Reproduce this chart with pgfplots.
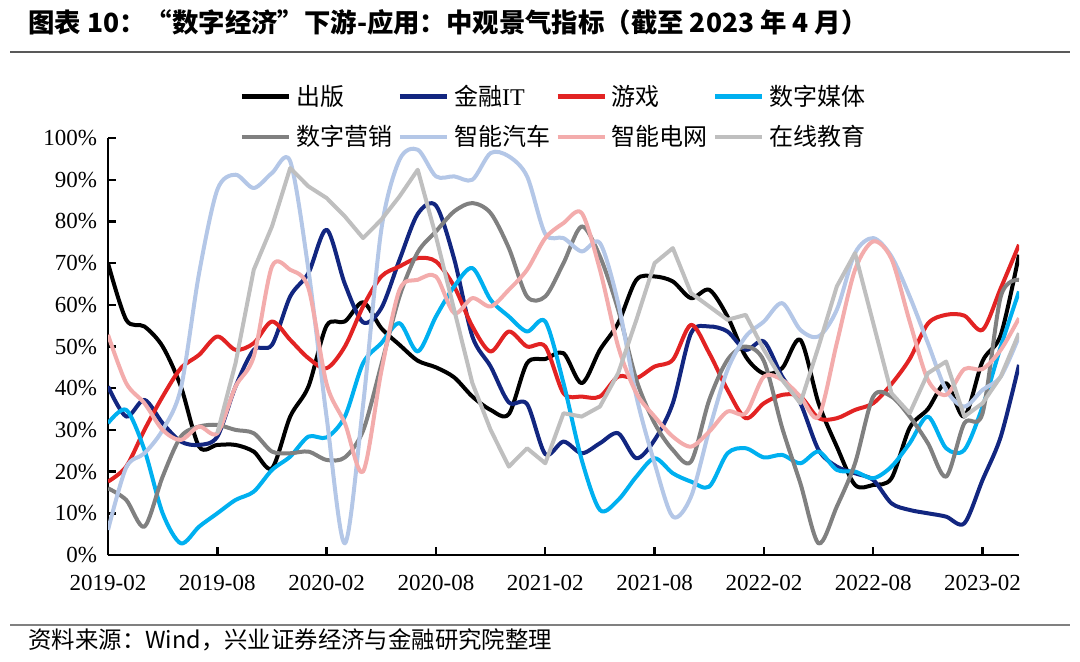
\documentclass[border=0pt]{standalone}
\usepackage{fontspec}
\setmainfont{Liberation Serif}
\newfontfamily\cjk{Noto Sans CJK SC}
\usepackage{pgfplots}
\pgfplotsset{compat=1.18}
\definecolor{cNavy}{RGB}{18,38,128}
\definecolor{cRed}{RGB}{226,35,35}
\definecolor{cCyan}{RGB}{0,176,240}
\definecolor{cGray}{RGB}{128,128,128}
\definecolor{cLBlue}{RGB}{180,199,231}
\definecolor{cPink}{RGB}{243,172,172}
\definecolor{cLGray}{RGB}{191,191,191}
\pgfplotsset{
  legend image code/.code={\draw[#1, line width=2.4pt] (0pt,0pt) -- (23.5pt,0pt);},
}
\newcommand{\lgent}[1]{\makebox[53pt][l]{\hspace{2.5pt}#1}}
\begin{document}
\begin{tikzpicture}
\useasboundingbox (0pt,0pt) rectangle (540pt,330.5pt);
\node[anchor=west, inner sep=0pt] at (14pt,319.5pt) {\cjk\bfseries\fontsize{13.2}{15}\selectfont 图表 10：“数字经济”下游-应用：中观景气指标（截至 2023 年 4 月）};
\draw[line width=1.2pt, color=black!65] (5pt,304.5pt) -- (535pt,304.5pt);
\draw[line width=1pt, color=black!50] (5pt,18pt) -- (535pt,18pt);
\node[anchor=west, inner sep=0pt] at (14pt,10.5pt) {\cjk\fontsize{11.7}{13}\selectfont 资料来源：Wind，兴业证券经济与金融研究院整理};
\begin{axis}[
  at={(54pt,53pt)}, anchor=south west,
  scale only axis, width=455.5pt, height=208.5pt,
  xmin=0, xmax=50, ymin=0, ymax=100,
  axis x line=bottom, axis y line=left,
  axis line style={line width=1.2pt, -},
  xtick={0,6,12,18,24,30,36,42,48},
  xticklabels={2019-02,2019-08,2020-02,2020-08,2021-02,2021-08,2022-02,2022-08,2023-02},
  ytick={0,10,...,100},
  yticklabels={0\%,10\%,20\%,30\%,40\%,50\%,60\%,70\%,80\%,90\%,100\%},
  tick align=inside, major tick length=4pt,
  tick style={line width=1.2pt, black},
  ticklabel style={font=\fontsize{11.5}{13}\selectfont},
  y tick label style={xshift=-2pt},
  x tick label style={yshift=-6.5pt},
  legend columns=4,
  legend style={at={(0.144,1.128)}, anchor=north west, draw=none, fill=none,
    inner sep=0pt, column sep=0pt, row sep=8.5pt,
    font=\cjk\fontsize{12}{14}\selectfont,
    nodes={inner sep=0pt}, cells={anchor=west}},
  every axis plot/.append style={line width=2pt, line join=round},
]
\addplot[black, smooth, tension=0.5] coordinates {(0,70) (1,56.4) (2,54.8) (3,50) (4,40.4) (5,26) (6,26.4) (7,26.4) (8,24.8) (9,20.8) (10,33.2) (11,40.4) (12,55) (13,56) (14,60.6) (15,54.4) (16,50.4) (17,46.6) (18,45) (19,42.6) (20,38) (21,34.8) (22,33.8) (23,46) (24,47) (25,48.4) (26,41.2) (27,49.2) (28,55.6) (29,66) (30,66.8) (31,65.6) (32,61.6) (33,63.6) (34,57.2) (35,47.6) (36,43.5) (37,44.8) (38,51.6) (39,36.4) (40,26) (41,16.8) (42,16.8) (43,18.4) (44,30.5) (45,35) (46,41.2) (47,33.2) (48,46.5) (49,52.8) (50,72)};
\addlegendentry{\lgent{出版}}
\addplot[cNavy, smooth, tension=0.5] coordinates {(0,40.4) (1,33.2) (2,37.2) (3,31.6) (4,27.2) (5,26.4) (6,28.4) (7,40.4) (8,49.2) (9,50.4) (10,62) (11,67.6) (12,78) (13,65) (14,55.8) (15,59.2) (16,70.8) (17,81.8) (18,83.8) (19,71) (20,52.4) (21,45.2) (22,36.6) (23,36.2) (24,24.2) (25,27.2) (26,24.4) (27,26.8) (28,29.2) (29,23.2) (30,27.6) (31,36.4) (32,53.2) (33,54.8) (34,53.6) (35,49.2) (36,51.2) (37,42.8) (38,36.4) (39,25.2) (40,21.2) (41,19.6) (42,18) (43,12.4) (44,10.8) (45,10) (46,9.2) (47,7.6) (48,18) (49,28.4) (50,45.6)};
\addlegendentry{\lgent{金融{\rmfamily IT}}}
\addplot[cRed, smooth, tension=0.5] coordinates {(0,17.6) (1,21.2) (2,30) (3,38) (4,44.8) (5,48) (6,52.4) (7,49.2) (8,50.8) (9,56) (10,51.6) (11,47.2) (12,44.8) (13,50) (14,59.6) (15,66.8) (16,69.2) (17,71.2) (18,70.4) (19,64.4) (20,54.8) (21,48.8) (22,53.6) (23,50) (24,50) (25,38.8) (26,38) (27,38) (28,42.8) (29,42.4) (30,45.2) (31,46.8) (32,55.2) (33,48.4) (34,39.6) (35,32.8) (36,36.4) (37,38.4) (38,38) (39,32.8) (40,32.8) (41,34.8) (42,36.4) (43,41) (44,47) (45,55.5) (46,57.6) (47,57.4) (48,54) (49,64) (50,74.4)};
\addlegendentry{\lgent{游戏}}
\addplot[cCyan, smooth, tension=0.5] coordinates {(0,31.6) (1,34.8) (2,25.2) (3,10) (4,2.8) (5,6.8) (6,10) (7,13.2) (8,15.2) (9,20.4) (10,23.6) (11,28.4) (12,28.2) (13,33.2) (14,46) (15,50.8) (16,55.6) (17,48.8) (18,57.2) (19,64.4) (20,68.8) (21,61.2) (22,57.2) (23,53.6) (24,56) (25,41.2) (26,22.8) (27,10.8) (28,13.2) (29,18.8) (30,23.2) (31,19.6) (32,17.6) (33,16.4) (34,24.4) (35,25.6) (36,23.4) (37,24) (38,22) (39,24.8) (40,20.4) (41,20) (42,18.4) (43,21.2) (44,26.8) (45,33.2) (46,25.6) (47,25.2) (48,35.6) (49,50) (50,63.2)};
\addlegendentry{\lgent{数字媒体}}
\addplot[cGray, smooth, tension=0.5] coordinates {(0,16) (1,13.2) (2,6.8) (3,18.8) (4,28.4) (5,30.8) (6,31.2) (7,30) (8,29.2) (9,24.8) (10,24.4) (11,24.8) (12,22.8) (13,23.4) (14,29.8) (15,45.6) (16,62) (17,72.6) (18,77.6) (19,82.4) (20,84.4) (21,82) (22,73.6) (23,62) (24,62) (25,70) (26,78.8) (27,71.6) (28,58.8) (29,42) (30,31.6) (31,25.2) (32,22.4) (33,37.2) (34,46.8) (35,50) (36,46.5) (37,30.5) (38,17.2) (39,2.8) (40,11.6) (41,22) (42,38) (43,38) (44,33.2) (45,26.8) (46,18.8) (47,31.6) (48,34) (49,62) (50,66)};
\addlegendentry{\lgent{数字营销}}
\addplot[cLBlue, smooth, tension=0.5] coordinates {(0,6) (1,21) (2,24.4) (3,30) (4,40) (5,67.6) (6,87.6) (7,91.2) (8,88) (9,91.6) (10,94.4) (11,68.4) (12,33) (13,2.8) (14,36) (15,78) (16,94.8) (17,97.2) (18,90.8) (19,90.8) (20,90) (21,96.4) (22,95.6) (23,90.8) (24,77) (25,76) (26,72.8) (27,74.8) (28,60.4) (29,38) (30,22) (31,9.2) (32,14) (33,30) (34,44.4) (35,52.4) (36,56) (37,60.4) (38,54) (39,52.4) (40,58.8) (41,72.4) (42,76) (43,71.6) (44,62) (45,50.8) (46,39.6) (47,35.6) (48,39.6) (49,42.8) (50,52.4)};
\addlegendentry{\lgent{智能汽车}}
\addplot[cPink, smooth, tension=0.5] coordinates {(0,52.8) (1,41.2) (2,36.4) (3,30) (4,27.6) (5,30.8) (6,29.2) (7,40.4) (8,47.6) (9,69.2) (10,68.4) (11,64) (12,41) (13,31.6) (14,20) (15,44) (16,63.6) (17,66) (18,66.8) (19,58) (20,61.6) (21,59.6) (22,63.6) (23,68.4) (24,76) (25,79.6) (26,82) (27,68.4) (28,50) (29,38.8) (30,33.2) (31,28.4) (32,26) (33,29.6) (34,34.4) (35,34) (36,42.8) (37,42) (38,38) (39,33.2) (40,50.8) (41,68.4) (42,75.2) (43,71) (44,56) (45,42) (46,38.4) (47,44.6) (48,44.6) (49,49.2) (50,56.8)};
\addlegendentry{\lgent{智能电网}}
\addplot[cLGray, sharp plot] coordinates {(6,29.2) (7,46) (8,68.4) (9,78.8) (10,92.8) (11,88.4) (12,85.6) (13,81.2) (14,76) (15,80.4) (16,86) (17,92.4) (18,76.4) (19,58.8) (20,41.2) (21,30) (22,21.2) (23,25.6) (24,22) (25,34) (26,33.2) (27,35.6) (28,43.6) (29,56.4) (30,70) (31,73.6) (32,62.8) (33,59.6) (34,56.4) (35,57.6) (36,49.2) (37,42) (38,36.4) (39,50) (40,64.4) (41,72.4) (42,55.6) (43,38.8) (44,34) (45,43.6) (46,46.4) (47,33.2) (48,36.4) (49,42.8) (50,53.2)};
\addlegendentry{\lgent{在线教育}}
\end{axis}
\end{tikzpicture}
\end{document}
